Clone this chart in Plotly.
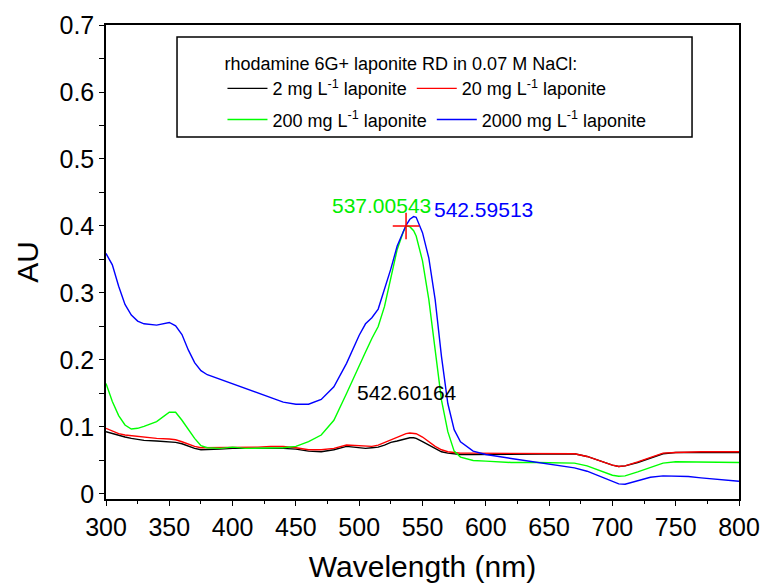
import plotly.graph_objects as go

wavelength = [300, 305, 310, 315, 320, 325, 330, 340, 350, 355, 360, 365, 370, 375, 380,
              390, 400, 410, 420, 430, 440, 450, 460, 470, 480, 490, 500, 505, 510, 515,
              520, 525, 530, 535, 537, 540, 543, 545, 550, 555, 560, 565, 570, 575, 580,
              590, 600, 620, 640, 660, 670, 680, 690, 700, 705, 710, 720, 730, 740, 750,
              760, 770, 780, 790, 800]

au_2 = [0.093, 0.090, 0.087, 0.085, 0.083, 0.081, 0.080, 0.079, 0.078, 0.077, 0.075, 0.071, 0.068, 0.066, 0.066,
        0.067, 0.068, 0.068, 0.069, 0.069, 0.068, 0.067, 0.064, 0.063, 0.066, 0.071, 0.069, 0.068, 0.069, 0.070,
        0.073, 0.077, 0.079, 0.082, 0.083, 0.084, 0.084, 0.083, 0.078, 0.073, 0.067, 0.063, 0.061, 0.060, 0.059,
        0.059, 0.059, 0.059, 0.059, 0.060, 0.060, 0.056, 0.049, 0.043, 0.041, 0.042, 0.047, 0.054, 0.060, 0.062,
        0.062, 0.063, 0.062, 0.063, 0.062]

au_20 = [0.098, 0.094, 0.090, 0.088, 0.087, 0.085, 0.084, 0.083, 0.082, 0.081, 0.078, 0.074, 0.071, 0.069, 0.069,
         0.069, 0.070, 0.070, 0.070, 0.071, 0.071, 0.069, 0.066, 0.066, 0.068, 0.073, 0.072, 0.071, 0.071, 0.073,
         0.077, 0.081, 0.085, 0.089, 0.090, 0.091, 0.091, 0.090, 0.085, 0.078, 0.071, 0.066, 0.063, 0.062, 0.061,
         0.061, 0.061, 0.061, 0.060, 0.061, 0.060, 0.056, 0.049, 0.043, 0.041, 0.042, 0.048, 0.055, 0.061, 0.062,
         0.063, 0.063, 0.063, 0.063, 0.063]

au_200 = [0.165, 0.138, 0.117, 0.103, 0.097, 0.098, 0.101, 0.108, 0.122, 0.122, 0.110, 0.096, 0.083, 0.072, 0.069,
          0.068, 0.070, 0.068, 0.068, 0.069, 0.069, 0.071, 0.078, 0.088, 0.110, 0.150, 0.193, 0.212, 0.232, 0.250,
          0.280, 0.325, 0.365, 0.392, 0.400, 0.399, 0.393, 0.385, 0.348, 0.290, 0.215, 0.140, 0.093, 0.064, 0.055,
          0.050, 0.049, 0.047, 0.047, 0.046, 0.046, 0.042, 0.035, 0.028, 0.0265, 0.027, 0.033, 0.040, 0.046, 0.048,
          0.048, 0.048, 0.048, 0.048, 0.047]

au_2000 = [0.359, 0.342, 0.310, 0.283, 0.267, 0.258, 0.254, 0.252, 0.256, 0.251, 0.238, 0.215, 0.196, 0.184, 0.178,
           0.171, 0.165, 0.158, 0.150, 0.143, 0.137, 0.134, 0.134, 0.141, 0.160, 0.195, 0.237, 0.254, 0.263, 0.276,
           0.305, 0.336, 0.370, 0.393, 0.401, 0.410, 0.414, 0.413, 0.390, 0.352, 0.290, 0.205, 0.135, 0.096, 0.078,
           0.064, 0.059, 0.053, 0.047, 0.042, 0.039, 0.034, 0.026, 0.018, 0.015, 0.0145, 0.020, 0.025, 0.027, 0.027,
           0.026, 0.024, 0.022, 0.021, 0.019]

series_names = ["2 mg L<sup>-1</sup> laponite", "20 mg L<sup>-1</sup> laponite",
                "200 mg L<sup>-1</sup> laponite", "2000 mg L<sup>-1</sup> laponite"]
series_values = [au_2, au_20, au_200, au_2000]
series_colors = ["#000000", "#ff0000", "#00ff00", "#0000ff"]
series_legend = ["legend", "legend", "legend2", "legend2"]

peak_x = [537.00543]
peak_y = [0.400]

label_texts = ["537.00543", "542.59513", "542.60164"]
label_x = [518, 598, 538]
label_y = [0.431, 0.424, 0.151]
label_colors = ["#00ee00", "#0000ff", "#000000"]

FONT = "Liberation Sans, Arial, sans-serif"

fig = go.Figure()
for name, vals, col, lg in zip(series_names, series_values, series_colors, series_legend):
    fig.add_trace(go.Scatter(x=wavelength, y=vals, mode="lines", name=name, legend=lg,
                             line=dict(color=col, width=1.4)))

fig.add_trace(go.Scatter(x=peak_x, y=peak_y, mode="markers", showlegend=False,
                         marker=dict(symbol="cross-thin", size=19,
                                     line=dict(color="#ff0000", width=1.5))))

for t, x, y, c in zip(label_texts, label_x, label_y, label_colors):
    fig.add_annotation(x=x, y=y, text=t, showarrow=False,
                       font=dict(family=FONT, size=21, color=c))

# legend frame
fig.add_shape(type="rect", xref="paper", yref="paper",
              x0=0.1122, x1=0.9258, y0=0.7637, y1=0.9747,
              line=dict(color="black", width=1.5), fillcolor="rgba(0,0,0,0)")

xr = [300, 800]
yr = [-0.0075, 0.7]

legend_common = dict(
    xanchor="left", yanchor="top", orientation="h",
    bgcolor="rgba(0,0,0,0)", borderwidth=0,
    font=dict(family=FONT, size=18, color="black"),
    itemwidth=40, tracegroupgap=0,
)

fig.update_layout(
    width=763, height=583,
    margin=dict(l=106, r=24, t=25, b=84, autoexpand=False),
    paper_bgcolor="white", plot_bgcolor="white",
    font=dict(family=FONT, color="black"),
    showlegend=True,
    legend=dict(
        x=0.184, y=0.954,
        title=dict(text="rhodamine 6G+ laponite RD in 0.07 M NaCl:", side="top",
                   font=dict(family=FONT, size=18, color="black")),
        **legend_common,
    ),
    legend2=dict(
        x=0.184, y=0.839,
        **legend_common,
    ),
    xaxis=dict(
        range=xr, showgrid=False, zeroline=False, automargin=False,
        showline=True, linecolor="black", linewidth=1.5, mirror=True,
        ticks="outside", ticklen=5, tickwidth=1.3, tickcolor="black",
        dtick=50, tick0=300,
        minor=dict(dtick=25, ticks="outside", ticklen=3, tickwidth=1.3, tickcolor="black"),
        tickfont=dict(family=FONT, size=25, color="black"),
        title=dict(text="Wavelength (nm)", font=dict(family=FONT, size=30, color="black"), standoff=16),
    ),
    yaxis=dict(
        range=yr, showgrid=False, zeroline=False, automargin=False,
        showline=True, linecolor="black", linewidth=1.5, mirror=True,
        ticks="outside", ticklen=5, tickwidth=1.3, tickcolor="black",
        dtick=0.1, tick0=0, tickformat="~g",
        minor=dict(dtick=0.05, ticks="outside", ticklen=5, tickwidth=1.3, tickcolor="black"),
        tickfont=dict(family=FONT, size=25, color="black"),
        title=dict(text="AU", font=dict(family=FONT, size=30, color="black"), standoff=12),
    ),
    xaxis2=dict(range=xr, overlaying="x", side="top", anchor="y", showgrid=False, zeroline=False,
                automargin=False,
                showline=False, showticklabels=False, ticks="inside", ticklen=5, tickwidth=1.3,
                tickcolor="black", dtick=25, tick0=300),
    yaxis2=dict(range=yr, overlaying="y", side="right", anchor="x", showgrid=False, zeroline=False,
                automargin=False,
                showline=False, showticklabels=False, ticks="inside", ticklen=6, tickwidth=1.3,
                tickcolor="black", dtick=0.05, tick0=0),
)

fig.write_html("out.html", config={"displayModeBar": False},
               post_script="document.body.style.margin='0';")
